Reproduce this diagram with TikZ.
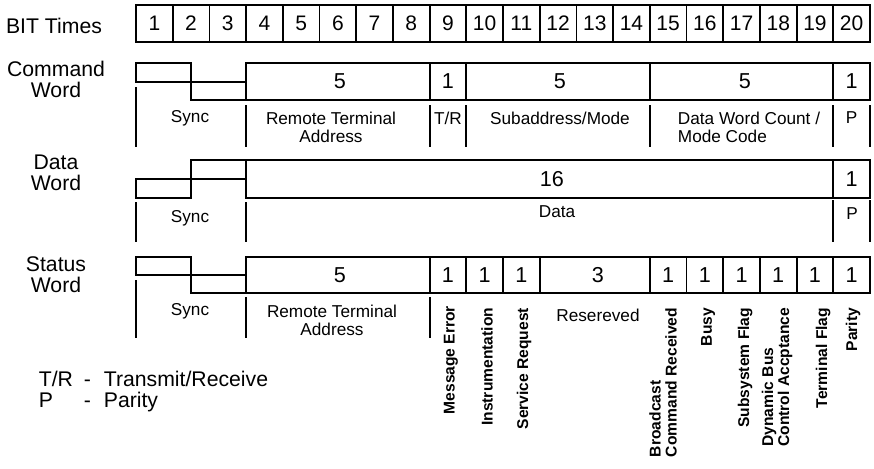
\documentclass[tikz,border=0pt]{standalone}
\usepackage{fontspec}
\setmainfont{Liberation Sans}
\usetikzlibrary{positioning}

\begin{document}
\begin{tikzpicture}[
    x=0.5pt, y=-0.5pt, line width=0.9pt,
    bitcell/.style={rectangle, draw=black, minimum width=18.35pt, minimum height=18.5pt,
      inner sep=0pt, font=\fontsize{10.5}{12}\selectfont},
    wordname/.style={align=center, inner sep=0pt, font=\fontsize{10.6}{10.5}\selectfont},
    count/.style={inner sep=0pt, font=\fontsize{10.8}{12}\selectfont},
    field/.style={inner sep=0pt, align=center, font=\fontsize{8.6}{9}\selectfont},
    vlabel/.style={rotate=90, anchor=east, inner sep=0pt, align=left,
      font=\bfseries\fontsize{7.8}{8}\selectfont},
    legend/.style={inner sep=0pt, anchor=west, font=\fontsize{10.6}{10}\selectfont},
  ]
  \useasboundingbox (0,0) rectangle (874,468);

  % bit times
  \node[wordname, font=\fontsize{10.6}{12}\selectfont] (bittimes) at (54,26) {BIT Times};
  \foreach \i in {1,...,20}
    \node[bitcell] (bit\i) at ({136+36.7*(\i-0.5)},23.5) {\i};

  % command word
  \node[wordname] (cmdname) at (56,79) {Command\\Word};
  \draw (136,63) rectangle (191,82) (191,82) rectangle (246.1,100);
  \draw (246.1,63) rectangle (429.6,100) (429.6,63) rectangle (466.3,100)
    (466.3,63) rectangle (649.8,100) (649.8,63) rectangle (833.3,100)
    (833.3,63) rectangle (870,100);
  \node[count] (cmdrta) at (340,81.5) {5};
  \node[count] (cmdtr) at (448,81.5) {1};
  \node[count] (cmdsub) at (560,81.5) {5};
  \node[count] (cmdcnt) at (745,81.5) {5};
  \node[count] (cmdpar) at (851.6,81.5) {1};
  \draw (136,87) -- (136,147);
  \foreach \x in {246.1,429.6,466.3,649.8,833.3,870}
    \draw (\x,105) -- (\x,147);
  \node[field] (cmdsync) at (190,118) {Sync};
  \node[field] (cmdrtaname) at (331,127) {Remote Terminal\\Address};
  \node[field] (cmdtrname) at (448,118) {T/R};
  \node[field] (cmdsubname) at (560,118) {Subaddress/Mode};
  \node[field, align=left] (cmdcntname) at (749,127) {Data Word Count /\\Mode Code};
  \node[field] (cmdparname) at (851.6,118) {P};

  % data word
  \node[wordname] (dataname) at (56,172.5) {Data\\Word};
  \draw (136,179) rectangle (191,198) (191,160) rectangle (246.1,179);
  \draw (246.1,160) rectangle (833.3,198) (833.3,160) rectangle (870,198);
  \node[count] (datadata) at (552,179) {16};
  \node[count] (datapar) at (851.6,179) {1};
  \foreach \x in {136,246.1}
    \draw (\x,202) -- (\x,242);
  \foreach \x in {833.3,870}
    \draw (\x,200) -- (\x,242);
  \node[field] (datasync) at (190,218) {Sync};
  \node[field] (datadataname) at (557,212) {Data};
  \node[field] (dataparname) at (852,214) {P};

  % status word
  \node[wordname] (statname) at (56,275) {Status\\Word};
  \draw (136,257) rectangle (191,275) (191,275) rectangle (246.1,293);
  \draw (246.1,257) rectangle (429.6,293) (539.7,257) rectangle (649.8,293);
  \foreach \a/\b in {429.6/466.3,466.3/503,503/539.7,649.8/686.5,686.5/723.2,
      723.2/759.9,759.9/796.6,796.6/833.3,833.3/870}
    \draw (\a,257) rectangle (\b,293) node[count, midway] {1};
  \node[count] (statrta) at (340,275) {5};
  \node[count] (statres) at (598,275) {3};
  \draw (136,280) -- (136,338);
  \foreach \x in {246.1,429.6}
    \draw (\x,297) -- (\x,338);
  \node[field] (statsync) at (190,311) {Sync};
  \node[field] (statrtaname) at (332,320) {Remote Terminal\\Address};
  \node[field] (statresname) at (598,315) {Resereved};
  \node[vlabel] (merr) at (451,305) {Message Error};
  \node[vlabel] (instr) at (487,307) {Instrumentation};
  \node[vlabel] (sreq) at (524,307) {Service Request};
  \node[vlabel] (bcast) at (663,307) {Broadcast\\Command Received};
  \node[vlabel] (busy) at (708,307) {Busy};
  \node[vlabel] (subsys) at (745,307) {Subsystem Flag};
  \node[vlabel] (dynbus) at (777,307) {Dynamic Bus\\Control Accptance};
  \node[vlabel] (term) at (823,307) {Terminal Flag};
  \node[vlabel] (parity) at (853,307) {Parity};

  % legend
  \node[legend] (legend) at (38,392) {\begin{tabular}{@{}p{22.5pt}@{}p{10pt}@{}l@{}}
    T/R & - & Transmit/Receive\\
    P & - & Parity
  \end{tabular}};
\end{tikzpicture}
\end{document}
